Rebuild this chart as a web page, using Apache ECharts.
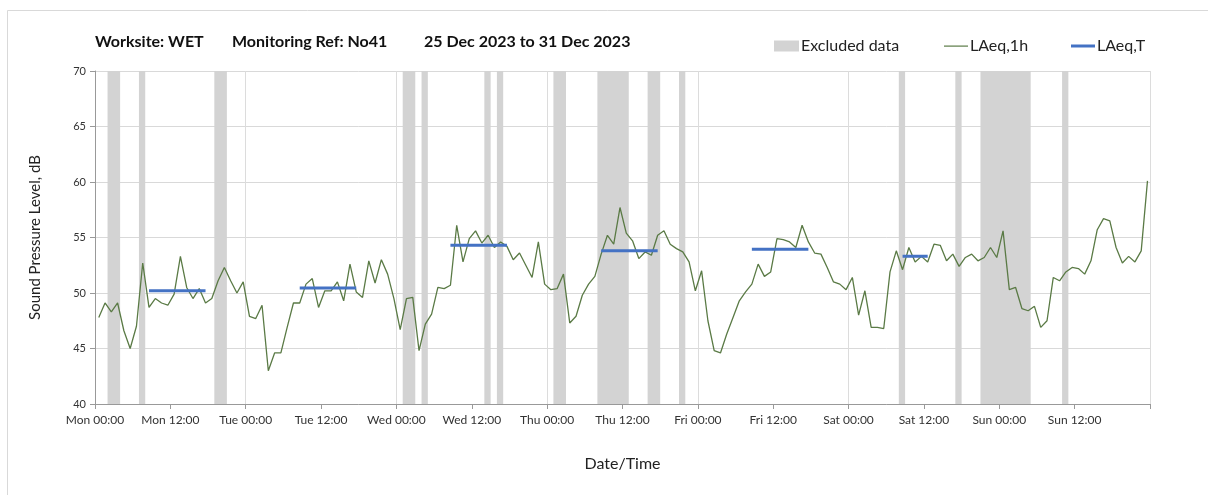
<!DOCTYPE html>
<html>
<head>
<meta charset="utf-8">
<script src="https://cdn.jsdelivr.net/npm/echarts@6/dist/echarts.min.js"></script>
<style>html,body{margin:0;padding:0;background:#fff}#c{width:1208px;height:495px}</style>
</head>
<body>
<div id="c"></div>
<script>
const dayNames = ['Mon','Tue','Wed','Thu','Fri','Sat','Sun'];
const yTicks = [40, 45, 50, 55, 60, 65, 70];
// hourly LAeq,1h values, Mon 00:00 onward
const laeq1h = [
47.8,49.1,48.3,49.1,46.6,45.0,47.0,52.7,48.7,49.5,49.1,48.9,49.9,53.3,50.5,49.5,50.4,49.1,49.5,51.1,52.3,51.1,50.0,51.0,
47.9,47.7,48.9,43.0,44.6,44.6,46.9,49.1,49.1,50.8,51.3,48.7,50.2,50.2,51.0,49.3,52.6,50.1,49.6,52.9,50.9,53.0,51.7,49.5,
46.7,49.5,49.6,44.8,47.2,48.1,50.5,50.4,50.7,56.1,52.8,54.9,55.6,54.5,55.2,54.1,54.6,54.2,53.0,53.6,52.5,51.4,54.6,50.8,
50.3,50.4,51.7,47.3,47.9,49.8,50.8,51.5,53.5,55.2,54.4,57.7,55.4,54.7,53.1,53.7,53.4,55.2,55.6,54.4,54.0,53.7,52.8,50.2,
52.0,47.5,44.8,44.6,46.3,47.8,49.3,50.1,50.8,52.6,51.5,51.9,54.9,54.8,54.6,54.1,56.1,54.6,53.6,53.5,52.3,51.0,50.8,50.3,
51.4,48.0,50.2,46.9,46.9,46.8,51.9,53.8,52.1,54.1,52.8,53.3,52.8,54.4,54.3,52.9,53.5,52.4,53.2,53.5,52.9,53.2,54.1,53.2,
55.6,50.3,50.5,48.6,48.4,48.8,46.9,47.5,51.4,51.1,51.9,52.3,52.2,51.7,52.9,55.7,56.7,56.5,54.1,52.7,53.3,52.8,53.8,60.1
];
// excluded periods [start hour, end hour]
const excludedStart = [2, 7, 19, 49, 52, 62, 64, 73, 80, 88, 93, 128, 137, 141, 154];
const excludedEnd   = [4, 8, 21, 51, 53, 63, 65, 75, 85, 90, 94, 129, 138, 149, 155];
// LAeq,T periods
const laeqTStart = [8, 32, 56, 80, 104, 128];
const laeqTEnd   = [17, 41, 65, 89, 113, 132];
const laeqTValue = [50.2, 50.45, 54.3, 53.8, 53.95, 53.3];

const OFFSET = 0.6;
const lineData = laeq1h.map((v, i) => [i + OFFSET, v]);
const tData = [];
laeqTStart.forEach((s, k) => {
  for (let h = s; h <= laeqTEnd[k]; h++) tData.push([h + OFFSET, laeqTValue[k]]);
  tData.push([laeqTEnd[k] + OFFSET + 0.01, null]);
});
const areas = excludedStart.map((s, k) => [{xAxis: s}, {xAxis: excludedEnd[k]}]);

const FONT = 'Lato, "Open Sans", sans-serif';
const titleStyle = {fontSize: 16, fontWeight: 'bold', color: '#111', fontFamily: FONT};
const legendText = {fontSize: 16, color: '#222', fontFamily: FONT, padding: [0, 0, 0, -3]};
const thinLine = 'path://M0,0 M0,5.5 H24 V6.7 H0 Z M24,12';
const thickLine = 'path://M0,0 M0,4.5 H24 V7.5 H0 Z M24,12';

const chart = echarts.init(document.getElementById('c'));
chart.setOption({
  animation: false,
  backgroundColor: '#fff',
  textStyle: {fontFamily: FONT},
  title: [
    {text: 'Worksite: WET', left: 95, top: 34, padding: 0, textStyle: titleStyle},
    {text: 'Monitoring Ref: No41', left: 232, top: 34, padding: 0, textStyle: titleStyle},
    {text: '25 Dec 2023 to 31 Dec 2023', left: 424, top: 34, padding: 0, textStyle: titleStyle}
  ],
  legend: [
    {left: 774, top: 38, padding: 0, itemWidth: 25, itemHeight: 11, textStyle: legendText,
      data: [{name: 'Excluded data', icon: 'rect', itemStyle: {color: '#d3d3d3'}}]},
    {left: 944, top: 38, padding: 0, itemWidth: 24, itemHeight: 12, textStyle: legendText,
      data: [{name: 'LAeq,1h', icon: thinLine, itemStyle: {color: '#5a7a45'}}]},
    {left: 1071, top: 38, padding: 0, itemWidth: 24, itemHeight: 12, textStyle: legendText,
      data: [{name: 'LAeq,T', icon: thickLine, itemStyle: {color: '#4472c4'}}]}
  ],
  grid: {left: 95, right: 58, top: 71, bottom: 91, containLabel: false},
  xAxis: [
    {
      type: 'value', min: 0, max: 168, interval: 12,
      name: 'Date/Time', nameLocation: 'middle', nameGap: 52,
      nameTextStyle: {fontSize: 16, color: '#222', fontFamily: FONT},
      axisLine: {show: true, lineStyle: {color: '#999'}},
      axisTick: {show: true, length: 5, lineStyle: {color: '#999'}},
      axisLabel: {fontSize: 12, color: '#333', margin: 10, fontFamily: FONT,
        formatter: v => v >= 168 ? '' : dayNames[Math.floor(v / 24)] + (v % 24 === 0 ? ' 00:00' : ' 12:00')},
      splitLine: {show: false}
    },
    {
      type: 'value', min: 0, max: 168, interval: 24, position: 'bottom',
      axisLine: {show: false}, axisTick: {show: false}, axisLabel: {show: false},
      splitLine: {show: true, lineStyle: {color: '#dcdcdc', width: 1}}
    }
  ],
  yAxis: {
    type: 'value', min: 40, max: 70, interval: 5,
    name: 'Sound Pressure Level, dB', nameLocation: 'middle', nameGap: 52, nameRotate: 90,
    nameTextStyle: {fontSize: 15, color: '#222', fontFamily: FONT},
    axisLine: {show: true, lineStyle: {color: '#999'}},
    axisTick: {show: true, length: 5, lineStyle: {color: '#999'}},
    axisLabel: {fontSize: 11, color: '#333', margin: 9, fontFamily: FONT,
      formatter: v => yTicks.includes(v) ? String(v) : ''},
    splitLine: {show: true, lineStyle: {color: '#d9d9d9'}}
  },
  series: [
    {
      name: 'Excluded data', type: 'line', data: [], xAxisIndex: 0,
      itemStyle: {color: '#d3d3d3'},
      markArea: {silent: true, itemStyle: {color: '#d3d3d3', opacity: 1}, data: areas}
    },
    {
      name: 'LAeq,1h', type: 'line', data: lineData, xAxisIndex: 0, z: 3,
      showSymbol: false, symbol: 'none',
      lineStyle: {color: '#5a7a45', width: 1.3},
      itemStyle: {color: '#5a7a45'}
    },
    {
      name: 'LAeq,T', type: 'line', data: tData, xAxisIndex: 0, z: 4,
      showSymbol: false, symbol: 'none', connectNulls: false,
      lineStyle: {color: '#4472c4', width: 3},
      itemStyle: {color: '#4472c4'}
    }
  ],
  graphic: [
    {type: 'line', shape: {x1: 7.5, y1: 10.5, x2: 1208, y2: 10.5}, style: {stroke: '#d9d9d9', lineWidth: 1}, silent: true},
    {type: 'line', shape: {x1: 7.5, y1: 10.5, x2: 7.5, y2: 495}, style: {stroke: '#d9d9d9', lineWidth: 1}, silent: true}
  ]
});
</script>
</body>
</html>
